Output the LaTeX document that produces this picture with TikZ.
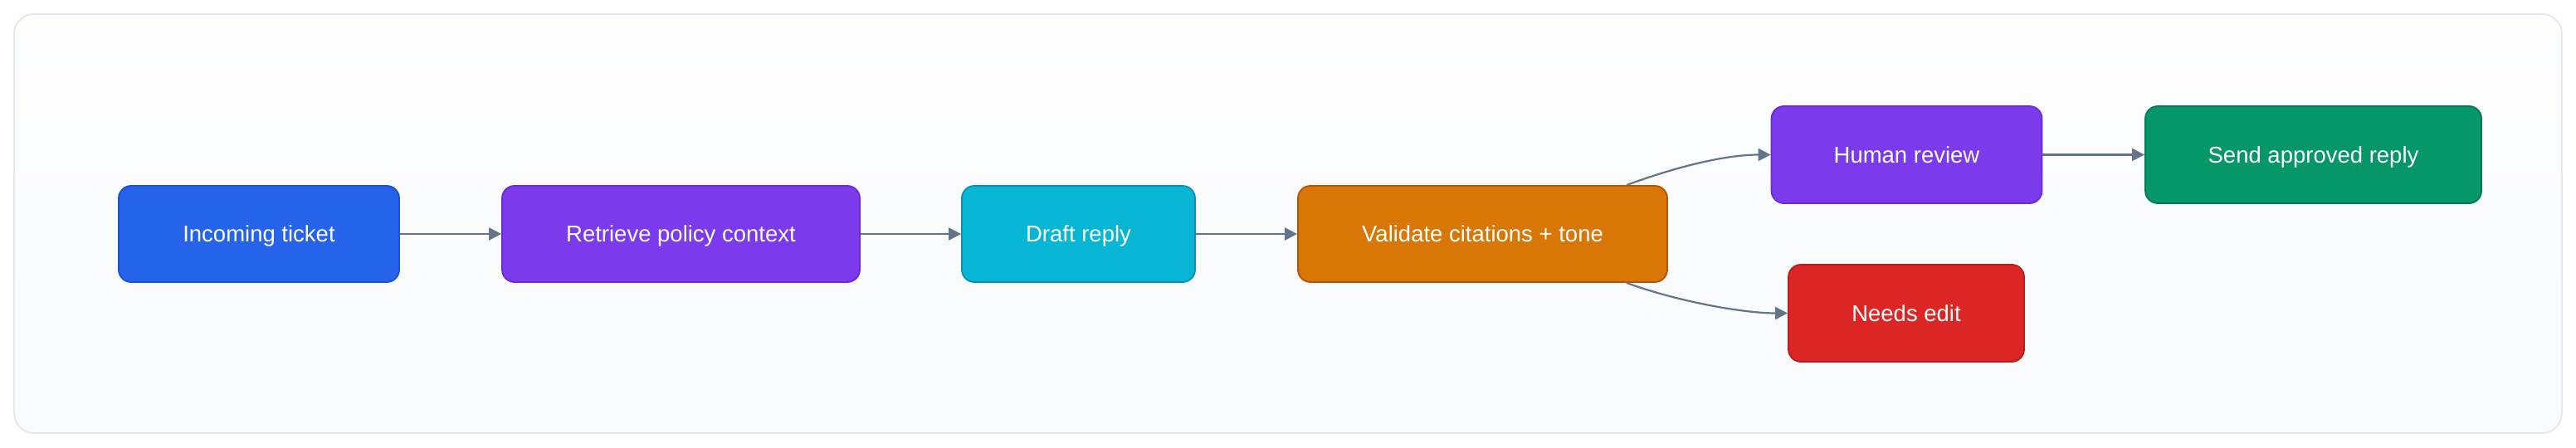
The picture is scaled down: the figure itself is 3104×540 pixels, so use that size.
\documentclass[tikz,border=0pt]{standalone}
\usepackage{fontspec}
\setmainfont{Liberation Sans}
\usetikzlibrary{arrows.meta}
\definecolor{cblue}{HTML}{2563EB}\definecolor{cbluedk}{HTML}{1D4ED8}
\definecolor{cpurp}{HTML}{7C3AED}\definecolor{cpurpdk}{HTML}{6D28D9}
\definecolor{ccyan}{HTML}{06B6D4}\definecolor{ccyandk}{HTML}{0891B2}
\definecolor{corng}{HTML}{D97706}\definecolor{corngdk}{HTML}{B45309}
\definecolor{cred}{HTML}{DC2626}\definecolor{creddk}{HTML}{B91C1C}
\definecolor{cgreen}{HTML}{059669}\definecolor{cgreendk}{HTML}{047857}
\definecolor{cedge}{HTML}{64748B}
\definecolor{cframe}{HTML}{E2E8F0}
\definecolor{cbgtop}{HTML}{FEFEFF}
\definecolor{cbgbot}{HTML}{F8FAFC}
\tikzset{
  stepbox/.style={rectangle, rounded corners=15pt, line width=1.8pt,
    text=white, align=center, inner sep=0pt,
    text height=19.7pt, text depth=0pt,
    font=\fontsize{27.5}{33}\selectfont},
  flow/.style={draw=cedge, line width=2.2pt, -{Triangle[length=15pt,width=15pt]}},
}
\begin{document}
\begin{tikzpicture}[x=1pt,y=-1pt]
\useasboundingbox (0,0) rectangle (3104,540);
\fill[white] (0,0) rectangle (3104,540);
\draw[draw=cframe, line width=1.8pt, top color=cbgtop, bottom color=cbgbot, rounded corners=24pt]
  (17,17) rectangle (3087,522);

\node[stepbox, fill=cblue, draw=cbluedk, minimum width=338pt, minimum height=116pt] (in) at (312,282) {Incoming ticket};
\node[stepbox, fill=cpurp, draw=cpurpdk, minimum width=431pt, minimum height=116pt] (ret) at (820.5,282) {Retrieve policy context};
\node[stepbox, fill=ccyan, draw=ccyandk, minimum width=281pt, minimum height=116pt] (draft) at (1299.5,282) {Draft reply};
\node[stepbox, fill=corng, draw=corngdk, minimum width=445pt, minimum height=116pt] (val) at (1786.5,282) {Validate citations + tone};
\node[stepbox, fill=cpurp, draw=cpurpdk, minimum width=326pt, minimum height=117pt] (hum) at (2297.5,186.5) {Human review};
\node[stepbox, fill=cgreen, draw=cgreendk, minimum width=405pt, minimum height=117pt] (send) at (2787.5,186.5) {Send approved reply};
\node[stepbox, fill=cred, draw=creddk, minimum width=284pt, minimum height=117pt] (edit) at (2297,377.5) {Needs edit};

\draw[flow] (in) -- (ret);
\draw[flow] (ret) -- (draft);
\draw[flow] (draft) -- (val);
\draw[flow] (hum) -- (send);
\draw[flow] ([xshift=-50pt]val.north east) .. controls +(60pt,22pt) and +(-55pt,0pt) .. (hum.west);
\draw[flow] ([xshift=-50pt]val.south east) .. controls +(60pt,-22pt) and +(-55pt,0pt) .. (edit.west);
\end{tikzpicture}
\end{document}
